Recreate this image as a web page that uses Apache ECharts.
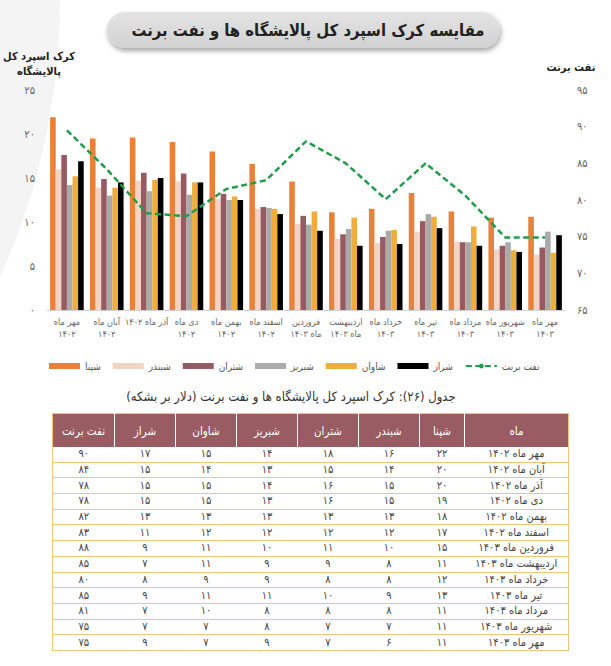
<!DOCTYPE html>
<html lang="fa">
<head>
<meta charset="utf-8">
<script src="https://cdn.jsdelivr.net/npm/echarts@6/dist/echarts.min.js"></script>
<style>
  html, body { margin:0; padding:0; background:#fff; }
  #wrap { position:relative; width:611px; height:666px; overflow:hidden; font-family:"DejaVu Sans Condensed","DejaVu Sans", sans-serif; }
  #chart { position:absolute; left:0; top:0; width:611px; height:400px; }
  #cap { position:absolute; left:0; top:389px; width:582px; text-align:center; direction:rtl; font-size:13px; color:#333; }
  #tbl { position:absolute; left:52px; top:413px; width:508px; border-collapse:collapse; table-layout:fixed; direction:rtl; border:1.5px solid #f2c57c; }
  #tbl th { background:#995c62; color:#fff; font-weight:normal; font-size:11.5px; height:33px; padding:0; border-left:1.5px solid #fff; text-align:center; }
  #tbl th:last-child { border-left:none; }
  #tbl td { font-size:11px; color:#444; height:14.7px; line-height:14px; padding:0; text-align:center; border-bottom:1px solid #f2c57c; white-space:nowrap; }
</style>
</head>
<body>
<div id="wrap">
  <div id="chart"></div>
  <div id="cap"></div>
  <table id="tbl"><thead><tr id="thead"></tr></thead><tbody id="tbody"></tbody></table>
</div>
<script>
// ---- data ----
const categories = ['مهر ماه\n۱۴۰۲','آبان ماه\n۱۴۰۲','آذر ماه ۱۴۰۲','دی ماه\n۱۴۰۲','بهمن ماه\n۱۴۰۲','اسفند ماه\n۱۴۰۲','فروردین\nماه ۱۴۰۳','اردیبهشت\nماه ۱۴۰۳','خرداد ماه\n۱۴۰۳','تیر ماه\n۱۴۰۳','مرداد ماه\n۱۴۰۳','شهریور ماه\n۱۴۰۳','مهر ماه\n۱۴۰۳'];
const seriesNames = ['شپنا','شبندر','شتران','شبریز','شاوان','شراز'];
const lineName = 'نفت برنت';
const shepna   = [21.9, 19.5, 19.6, 19.1, 18.0, 16.6, 14.6, 11.1, 11.5, 13.3, 11.2, 10.5, 10.6];
const shabandar= [16.0, 13.9, 14.7, 14.6, 12.6, 11.5, 9.8, 8.1, 7.6, 8.9, 7.8, 6.9, 6.3];
const shetran  = [17.6, 14.9, 15.6, 15.5, 13.2, 11.7, 10.7, 8.6, 8.3, 10.1, 7.7, 7.3, 7.1];
const shabriz  = [14.2, 13.0, 13.5, 13.1, 12.5, 11.6, 9.7, 9.2, 9.0, 10.9, 7.7, 7.7, 8.9];
const shavan   = [15.2, 13.9, 14.8, 14.5, 12.9, 11.5, 11.2, 10.5, 9.1, 10.6, 9.5, 6.8, 6.5];
const shiraz   = [16.9, 14.5, 15.0, 14.5, 12.5, 10.9, 9.0, 7.3, 7.5, 9.3, 7.3, 6.6, 8.5];
const brent    = [89.5, 84.2, 78.2, 77.8, 81.5, 82.7, 88.0, 85.0, 80.1, 85.0, 80.6, 74.9, 74.9];

// table data (as printed)
const tableHeaders = ['ماه','شپنا','شبندر','شتران','شبریز','شاوان','شراز','نفت برنت'];
const tableMonths = ['مهر ماه ۱۴۰۲','آبان ماه ۱۴۰۲','آذر ماه ۱۴۰۲','دی ماه ۱۴۰۲','بهمن ماه ۱۴۰۲','اسفند ماه ۱۴۰۲','فروردین ماه ۱۴۰۳','اردیبهشت ماه ۱۴۰۳','خرداد ماه ۱۴۰۳','تیر ماه ۱۴۰۳','مرداد ماه ۱۴۰۳','شهریور ماه ۱۴۰۳','مهر ماه ۱۴۰۳'];
const tShepna    = [22,20,20,19,18,17,15,11,12,13,11,11,11];
const tShabandar = [16,14,15,15,13,12,10,8,8,9,8,7,6];
const tShetran   = [18,15,16,16,13,12,11,9,8,10,8,7,7];
const tShabriz   = [14,13,14,13,13,12,10,9,9,11,8,8,9];
const tShavan    = [15,14,15,15,13,12,11,11,9,11,10,7,7];
const tShiraz    = [17,15,15,15,13,11,9,7,8,9,7,7,9];
const tBrent     = [90,84,78,78,82,83,88,85,80,85,81,75,75];
const tableWidths = [103,44,60,60,60,60,60,61];

const titleText = 'مقایسه کرک اسپرد کل پالایشگاه ها و نفت برنت';
const captionText = 'جدول (۲۶): کرک اسپرد کل پالایشگاه ها و نفت برنت (دلار بر بشکه)';

// ---- helpers ----
const FONT = '"DejaVu Sans Condensed", "DejaVu Sans", sans-serif';
const fa = v => String(v).replace(/\d/g, d => '۰۱۲۳۴۵۶۷۸۹'[d]);
const colors = ['#e8823a','#f3d4c4','#985a61','#aaaaaa','#efad3c','#000000'];
const barData = [shepna, shabandar, shetran, shabriz, shavan, shiraz];

// ---- table ----
document.getElementById('cap').textContent = captionText;
const thead = document.getElementById('thead');
tableHeaders.forEach((h,i) => { const th = document.createElement('th'); th.textContent = h; th.style.width = tableWidths[i] + 'px'; thead.appendChild(th); });
const tbody = document.getElementById('tbody');
const tcols = [tShepna, tShabandar, tShetran, tShabriz, tShavan, tShiraz, tBrent];
tableMonths.forEach((m, r) => {
  const tr = document.createElement('tr');
  const cells = [m].concat(tcols.map(c => fa(c[r])));
  cells.forEach(v => { const td = document.createElement('td'); td.textContent = v; tr.appendChild(td); });
  tbody.appendChild(tr);
});

// ---- chart ----
const chart = echarts.init(document.getElementById('chart'), null, { renderer: 'svg' });
const series = barData.map((d, i) => ({
  name: seriesNames[i], type: 'bar', data: d, barWidth: 5.6, barGap: '0%',
  itemStyle: { color: colors[i] }
}));
series.push({
  name: lineName, type: 'line', yAxisIndex: 1, data: brent, symbol: 'none', z: 5,
  lineStyle: { color: '#1f9d4a', width: 2.5, type: [6, 3.5] },
  itemStyle: { color: '#1f9d4a' }
});

chart.setOption({
  animation: false,
  textStyle: { fontFamily: FONT },
  graphic: [
    { type: 'circle', shape: { cx: -609, cy: 0, r: 669 }, style: { fill: '#f4f4f4' }, z: -10, silent: true },
    { type: 'rect', shape: { x: 107, y: 12, width: 393, height: 36, r: 18 },
      style: { fill: new echarts.graphic.LinearGradient(0,0,0,1,[{offset:0,color:'#e4e4e4'},{offset:1,color:'#d2d2d2'}]),
               shadowBlur: 5, shadowOffsetX: 1, shadowOffsetY: 3, shadowColor: 'rgba(0,0,0,0.35)' }, z: -5, silent: true }
  ],
  title: {
    text: titleText, left: 303, top: 17, textAlign: 'center',
    textStyle: { fontSize: 16.5, fontWeight: 'bold', color: '#222', fontFamily: FONT }
  },
  legend: {
    left: 44, top: 356, width: 560, itemWidth: 31, itemHeight: 6, itemGap: 12,
    textStyle: { fontSize: 10, color: '#555', fontFamily: FONT },
    data: seriesNames.map(n => ({ name: n, icon: 'rect' })).concat([{ name: lineName }])
  },
  grid: { left: 47, right: 46, top: 90, bottom: 90, containLabel: false },
  xAxis: {
    type: 'category', data: categories,
    axisTick: { show: false },
    axisLine: { lineStyle: { color: '#d3d3d3', width: 1 } },
    axisLabel: { interval: 0, color: '#666', fontSize: 9, lineHeight: 12, margin: 6, fontFamily: FONT }
  },
  yAxis: [
    { type: 'value', min: 0, max: 25, interval: 5,
      name: 'کرک اسپرد کل\nپالایشگاه', nameLocation: 'end', nameGap: 11,
      nameTextStyle: { fontSize: 11, fontWeight: 'bold', color: '#222', lineHeight: 15, padding: [0, 16, 0, 0], fontFamily: FONT },
      axisLine: { show: false }, axisTick: { show: false }, splitLine: { show: false },
      axisLabel: { color: '#666', fontSize: 11, margin: 12, formatter: v => fa(v) } },
    { type: 'value', min: 65, max: 95, interval: 5, position: 'right',
      name: 'نفت برنت', nameLocation: 'end', nameGap: 17,
      nameTextStyle: { fontSize: 11, fontWeight: 'bold', color: '#222', padding: [0, 0, 0, 12], fontFamily: FONT },
      axisLine: { show: false }, axisTick: { show: false }, splitLine: { show: false },
      axisLabel: { color: '#666', fontSize: 11, margin: 12, formatter: v => fa(v) } }
  ],
  series: series
});
</script>
</body>
</html>
